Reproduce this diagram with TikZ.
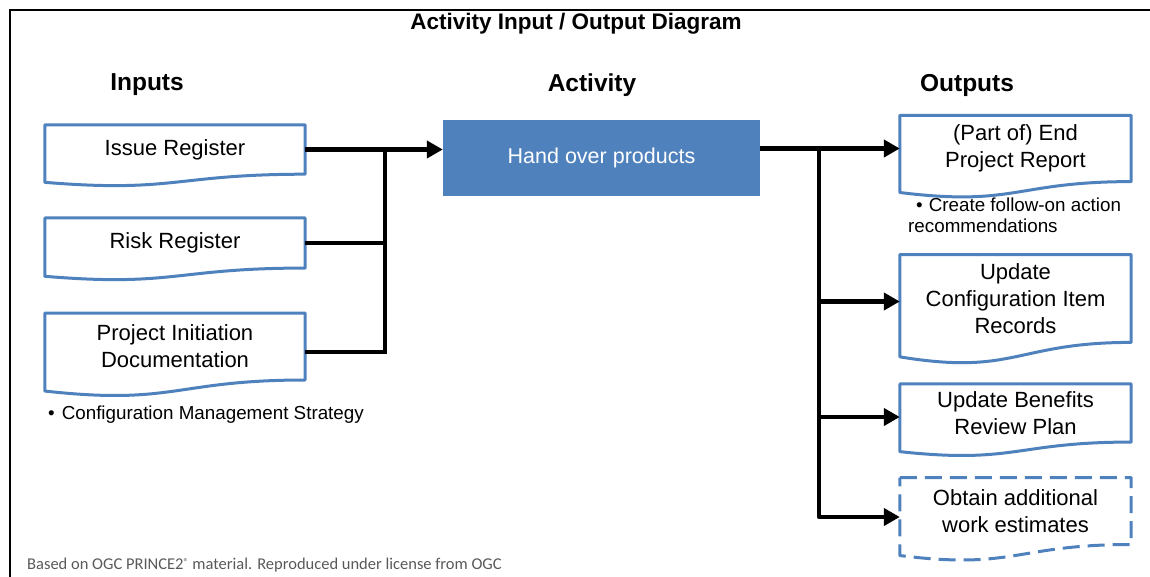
\documentclass[tikz,border=0pt]{standalone}
\usepackage{fontspec}
\setmainfont{Liberation Sans}
\newfontfamily\calib{Carlito}
\usetikzlibrary{arrows.meta,calc}
\definecolor{pblue}{HTML}{4F81BD}
\definecolor{fgray}{HTML}{595959}
\tikzset{
  doc/.style={minimum width=#1, inner sep=0pt, align=center, font=\fontsize{22}{27}\selectfont},
  docline/.style={draw=pblue, line width=3pt, line join=round},
  conn/.style={line width=4.5pt},
  arr/.style={conn, -{Triangle[length=16pt,width=17pt]}},
  hdr/.style={font=\fontsize{24.5}{28}\selectfont\bfseries},
  note/.style={font=\fontsize{18.8}{21}\selectfont, inner sep=0pt},
  actbox/.style={fill=pblue, text=white, minimum width=317pt, minimum height=76pt, inner sep=0pt, font=\fontsize{21.5}{26}\selectfont},
}
\newcommand\docpath[2][]{%
  \draw[docline,#1] let \p1=(#2.north west), \p2=(#2.south east) in
    (\x1,\y1) -- (\x2,\y1) -- (\x2,\y2)
    .. controls ({0.5*\x1+0.5*\x2},\y2) and ({0.5*\x1+0.5*\x2},{\y2-0.381*(\y1-\y2)})
    .. (\x1,{\y2-0.1646*(\y1-\y2)}) -- cycle;}
\begin{document}
\begin{tikzpicture}[x=1pt,y=-1pt]
\useasboundingbox (0,0) rectangle (1150,576);
% frame
\draw[line width=2.8pt] (10,590) -- (10,10) -- (1160,10);
% titles
\node[font=\fontsize{22.5}{26}\selectfont\bfseries] (title) at (576,24) {Activity Input / Output Diagram};
\node[hdr] (hin) at (147,85) {Inputs};
\node[hdr] (hact) at (592,85) {Activity};
\node[hdr] (hout) at (967,85) {Outputs};
% inputs
\node[doc=260pt, minimum height=49pt] (ir) at (175,149.5) {Issue Register};
\node[doc=260pt, minimum height=49.7pt] (rr) at (175,243) {Risk Register};
\node[doc=260pt, minimum height=66.6pt] (pid) at (175,346.5) {Project Initiation\\Documentation};
\docpath{ir}
\docpath{rr}
\docpath{pid}
\node[note, anchor=west] (cms) at (48,415) {\textbullet\hspace{7pt}Configuration Management Strategy};
% activity
\node[actbox] (act) at (601.5,158) {Hand over products};
% outputs
\node[doc=231pt, minimum height=65.8pt] (o1) at (1015.5,148.5) {(Part of) End\\Project Report};
\node[doc=231pt, minimum height=87.4pt] (o2) at (1015.5,298.5) {Update\\Configuration Item\\Records};
\node[doc=231pt, minimum height=57.7pt] (o3) at (1015.5,413) {Update Benefits\\Review Plan};
\node[doc=231pt, minimum height=66.6pt] (o4) at (1015.5,511) {Obtain additional\\work estimates};
\docpath{o1}
\docpath{o2}
\docpath{o3}
\docpath[dash pattern=on 17pt off 8pt]{o4}
\node[note, anchor=north west, align=left] (fo) at (908,198) {\hspace{8pt}\textbullet\hspace{6pt}Create follow-on action\\recommendations};
% footer
\node[anchor=west, text=fgray, inner sep=0pt, font=\calib\fontsize{16.5}{19}\selectfont] (src) at (27,565) {Based on OGC PRINCE2\raisebox{0.45ex}{\fontsize{10}{10}\selectfont ®} material. Reproduced under license from OGC};
% connectors in
\coordinate (jin) at (385,0);
\coordinate (pidout) at ([yshift=-5.5pt]pid.east);
\draw[arr] (ir.east) -- (ir.east -| act.west);
\draw[conn] (rr.east) -- (rr.east -| jin);
\draw[conn] (pidout) -| (ir.east -| jin);
% connectors out
\coordinate (jout) at (819,0);
\coordinate (o2in) at ([yshift=-3pt]o2.west);
\coordinate (o3in) at ([yshift=-4pt]o3.west);
\coordinate (o4in) at ([yshift=-6pt]o4.west);
\draw[arr] (act.east |- o1.west) -- (o1.west);
\draw[arr, line join=round] (jout |- o1.west) |- (o4in);
\draw[arr] (o2in -| jout) -- (o2in);
\draw[arr] (o3in -| jout) -- (o3in);
\end{tikzpicture}
\end{document}
